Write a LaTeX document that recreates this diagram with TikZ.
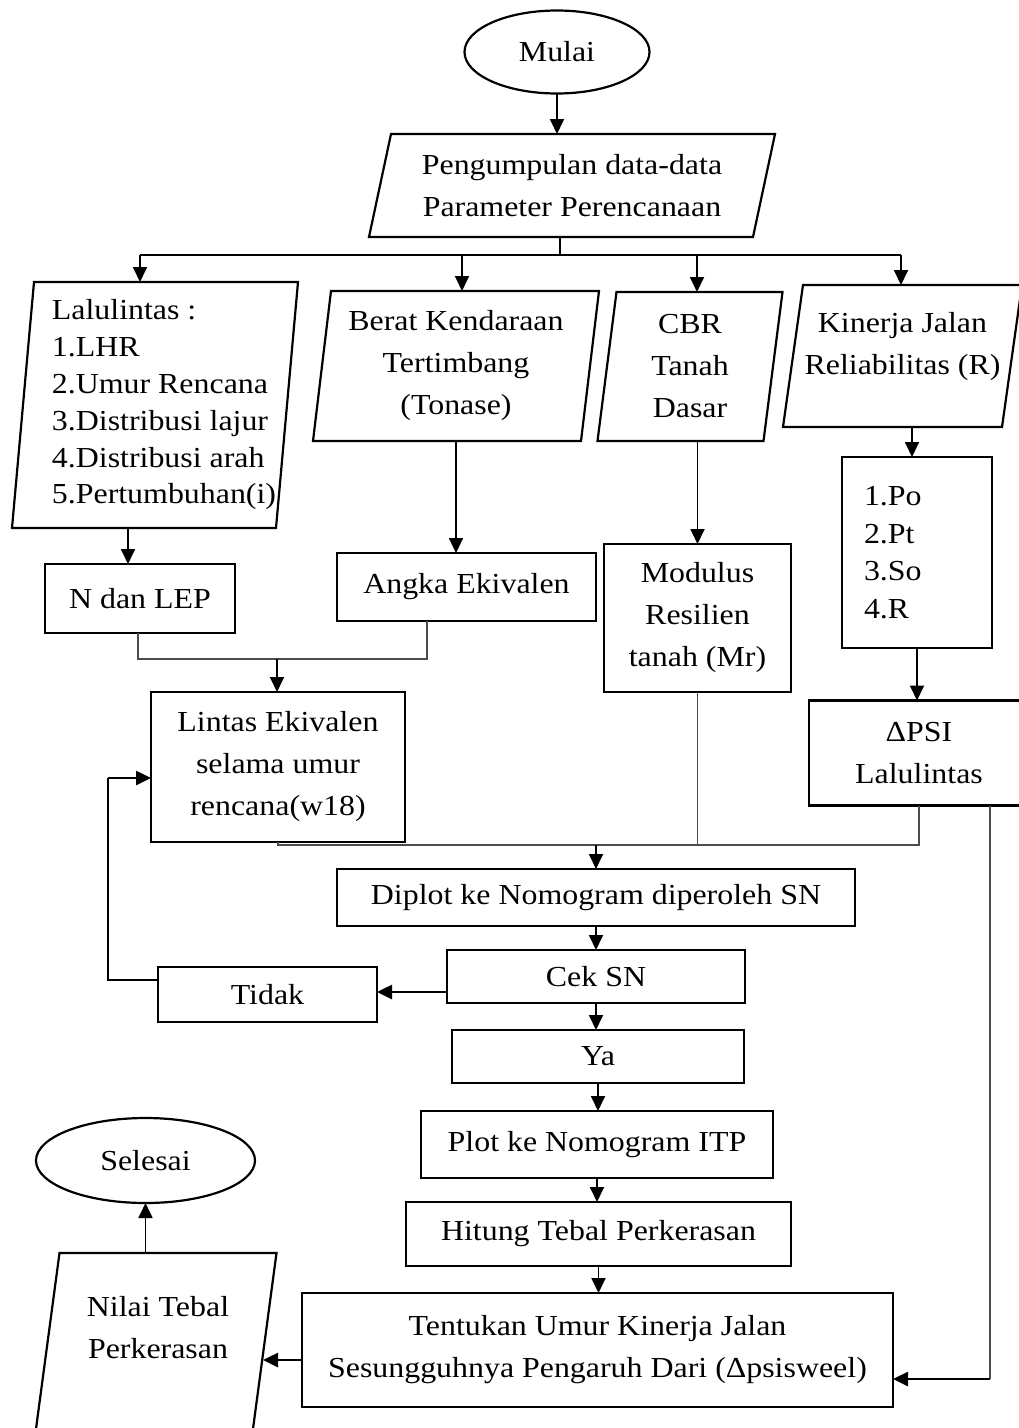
\documentclass[tikz,border=0pt]{standalone}
\usepackage{fontspec}
\setmainfont{Liberation Serif}[FakeStretch=1.1]
\usetikzlibrary{shapes.geometric,arrows.meta}

\tikzset{
    boxline/.style = {line width=2.2pt, line join=miter},
    blok/.style = {draw, boxline, rectangle, inner sep=0pt, outer sep=0pt, align=center},
    teks/.style = {inner sep=0pt, outer sep=0pt, align=center},
    oval/.style = {draw, ellipse, boxline, inner sep=0pt, outer sep=0pt},
    arr/.style = {line width=1.8pt, -{Triangle[length=15pt,width=14pt]}},
    tipis/.style = {line width=1.1pt, draw=black!70},
}
% outline of a data box (parallelogram) round a node
\newcommand{\jajar}[4]{%
    \draw[boxline] ([xshift=#2]#1.north west) -- ([xshift=#2]#1.north east)
        -- ([xshift=#3,yshift=-#4]#1.south east) -- ([xshift=#3,yshift=-#4]#1.south west) -- cycle;}

\begin{document}
\begin{tikzpicture}[x=1pt, y=-1pt, font=\fontsize{29}{42}\selectfont]
    \useasboundingbox (0,0) rectangle (1019,1428);

    \node[oval, minimum width=185, minimum height=83] (mulai) at (557,52) {Mulai};
    \node[teks, minimum width=384, minimum height=103] (data) at (572,185.5)
        {Pengumpulan data-data\\Parameter Perencanaan};
    \jajar{data}{11}{-11}{0}

    % four inputs
    \node[teks, minimum width=264, minimum height=246, align=left,
        font=\fontsize{29}{36.8}\selectfont] (lalu) at (164,405)
        {Lalulintas :\\1.LHR\\2.Umur Rencana\\3.Distribusi lajur\\4.Distribusi arah\\5.Pertumbuhan(i)};
    \jajar{lalu}{2}{-20}{0}
    \node[teks, minimum width=268, minimum height=150] (berat) at (456,366)
        {Berat Kendaraan\\Tertimbang\\(Tonase)};
    \jajar{berat}{9}{-9}{0}
    \node[teks, minimum width=166, minimum height=149] (cbr) at (690,366.5)
        {CBR\\Tanah\\Dasar};
    \jajar{cbr}{9.5}{-9.5}{0}
    \node[teks, minimum width=219, minimum height=124] (kinerja) at (902.5,347)
        {Kinerja Jalan\\Reliabilitas (R)};
    \jajar{kinerja}{10}{-10}{18}

    \node[blok, minimum width=190, minimum height=69] (nlep) at (140,598.5) {N dan LEP};
    \node[blok, minimum width=259, minimum height=68] (angka) at (466.5,587) {Angka Ekivalen};
    \node[blok, minimum width=187, minimum height=148] (modulus) at (697.5,618)
        {Modulus\\Resilien\\tanah (Mr)};
    \node[blok, minimum width=150, minimum height=191, text width=106, align=left,
        font=\fontsize{29}{37.5}\selectfont] (po) at (917,552.5)
        {1.Po\\2.Pt\\3.So\\4.R};
    \node[blok, minimum width=220, minimum height=105] (psi) at (919,753)
        {ΔPSI\\Lalulintas};
    \node[blok, minimum width=254, minimum height=150] (lintas) at (278,767)
        {Lintas Ekivalen\\selama umur\\rencana(w18)};

    \node[blok, minimum width=518, minimum height=57] (diplot) at (596,897.5)
        {Diplot ke Nomogram diperoleh SN};
    \node[blok, minimum width=298, minimum height=53] (cek) at (596,976.5) {Cek SN};
    \node[blok, minimum width=219, minimum height=55] (tidak) at (267.5,994.5) {Tidak};
    \node[blok, minimum width=292, minimum height=53] (ya) at (598,1056.5) {Ya};
    \node[blok, minimum width=352, minimum height=67] (plot) at (597,1144.5)
        {Plot ke Nomogram ITP};
    \node[blok, minimum width=385, minimum height=64] (hitung) at (598.5,1234)
        {Hitung Tebal Perkerasan};
    \node[blok, minimum width=591, minimum height=114] (tentukan) at (597.5,1350)
        {Tentukan Umur Kinerja Jalan\\Sesungguhnya Pengaruh Dari (Δpsisweel)};

    \node[teks, minimum width=217, minimum height=150] (nilai) at (158,1328)
        {Nilai Tebal\\Perkerasan};
    \jajar{nilai}{10}{-19}{67}
    \node[oval, minimum width=219, minimum height=85] (selesai) at (145.5,1160.5) {Selesai};

    % connectors
    \coordinate (bus) at (560,255);
    \coordinate (b1) at (140,255);
    \coordinate (b2) at (462,255);
    \coordinate (b3) at (697,255);
    \coordinate (b4) at (901,255);
    \draw[arr] (mulai.south) -- (mulai.south |- data.north);
    \draw[tipis, draw=black] (data.south -| bus) -- (bus);
    \draw[tipis, draw=black] (b1) -- (b4);
    \draw[arr] (b1) -- (b1 |- lalu.north);
    \draw[arr] (b2) -- (b2 |- berat.north);
    \draw[arr] (b3) -- (b3 |- cbr.north);
    \draw[arr] (b4) -- (b4 |- kinerja.north);

    \draw[arr] ([xshift=-12]nlep.north |- lalu.south) -- ([xshift=-12]nlep.north);
    \draw[arr] (berat.south) -- (berat.south |- angka.north);
    \draw[arr] (modulus.north |- cbr.south) -- (modulus.north);
    \draw[arr] ([xshift=-5,yshift=-18]po.north |- kinerja.south) -- ([xshift=-5]po.north);
    \draw[arr] (po.south) -- (po.south |- psi.north);

    \coordinate (j1) at (277,659);
    \draw[tipis] ([xshift=-2]nlep.south) -- ++(0,26) -| ([xshift=-39.5]angka.south);
    \draw[arr] (j1) -- (j1 |- lintas.north);

    \coordinate (j2) at (596,845);
    \draw[tipis] (lintas.south) -- (lintas.south |- j2) -- (psi.south |- j2) -- (psi.south);
    \draw[tipis] (modulus.south) -- (modulus.south |- j2);
    \draw[arr] (j2) -- (diplot.north);

    \draw[arr] (diplot.south) -- (diplot.south |- cek.north);
    \draw[arr] (cek.south) -- (cek.south |- ya.north);
    \draw[arr] (ya.south) -- (ya.south |- plot.north);
    \draw[arr] (plot.south) -- (plot.south |- hitung.north);
    \draw[arr] (hitung.south) -- (hitung.south |- tentukan.north);

    \draw[arr, line width=2.6pt] ([yshift=-15.5]cek.west) -- ([yshift=-15.5]cek.west -| tidak.east);
    \coordinate (lp) at (108,778);
    \draw[tipis, draw=black] ([yshift=14.5]tidak.west) -| (lp);
    \draw[arr, line width=2.6pt] (lp) -- ([yshift=-11]lintas.west);

    \coordinate (rp) at (990,1379);
    \draw[tipis] (psi.south -| rp) -- (rp);
    \draw[arr, line width=2.6pt] (rp) -- (rp -| tentukan.east);
    \draw[arr, line width=2.6pt] ([yshift=-10]tentukan.west) -- ++(-39,0);
    \draw[arr] (selesai.south |- nilai.north) -- (selesai.south);
\end{tikzpicture}
\end{document}
